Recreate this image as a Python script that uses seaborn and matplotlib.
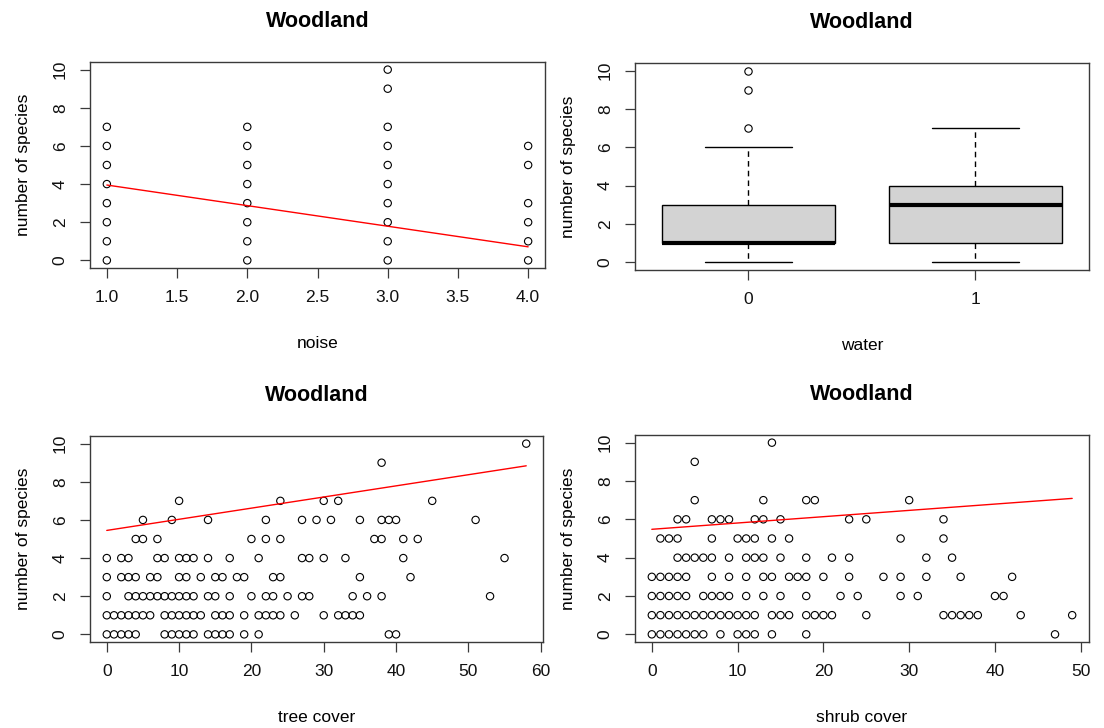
import numpy as np
import pandas as pd
import matplotlib
matplotlib.use("Agg")
import matplotlib.pyplot as plt
import seaborn as sns

# --- data (overlapping points drawn once) ---
species_levels = list(range(11))

# noise vs species: distinct (noise, species) pairs
noise_x = [1] * 8 + [2] * 8 + [3] * 10 + [4] * 6
noise_y = list(range(8)) + list(range(8)) + list(range(8)) + [9, 10] + [0, 1, 2, 3, 5, 6]
noise_fit = [5.03, -1.08]  # intercept, slope

# water: counts of sites per species value 0..10
water0_counts = [18, 30, 14, 12, 8, 5, 3, 1, 0, 1, 1]
water1_counts = [5, 8, 6, 9, 7, 3, 3, 2, 0, 0, 0]

# tree cover: x values in each species row
tree_rows = {
    0: [0, 1, 2, 3, 4, 8, 9, 10, 11, 12, 14, 15, 16, 17, 19, 21, 39, 40],
    1: [0, 1, 2, 3, 4, 5, 6, 8, 9, 10, 11, 12, 13, 15, 16, 17, 19, 21, 22, 23, 24, 26,
        30, 32, 33, 34, 35],
    2: [0, 3, 4, 5, 6, 7, 8, 9, 10, 11, 12, 14, 15, 17, 20, 22, 23, 25, 27, 28, 34, 36, 38, 53],
    3: [0, 2, 3, 4, 6, 7, 10, 11, 13, 15, 16, 18, 19, 23, 24, 35, 42],
    4: [0, 2, 3, 7, 8, 10, 11, 12, 14, 17, 21, 27, 28, 30, 33, 41, 55],
    5: [4, 5, 7, 20, 22, 24, 37, 38, 41, 43],
    6: [5, 9, 14, 22, 27, 29, 31, 35, 38, 39, 40, 51],
    7: [10, 24, 30, 32, 45],
    9: [38],
    10: [58],
}
tree_fit = [5.45, 0.0584]

# shrub cover: x values in each species row
shrub_rows = {
    0: [0, 1, 2, 3, 4, 5, 6, 8, 10, 11, 12, 14, 18, 47],
    1: [0, 1, 2, 3, 4, 5, 6, 7, 8, 9, 10, 11, 12, 14, 15, 16, 18, 19, 20, 21, 25,
        34, 35, 36, 37, 38, 43, 49],
    2: [0, 1, 2, 3, 4, 6, 7, 8, 9, 11, 13, 15, 18, 22, 24, 29, 31, 40, 41],
    3: [0, 1, 2, 3, 4, 7, 9, 11, 13, 14, 16, 17, 18, 20, 23, 27, 29, 32, 36, 42],
    4: [3, 4, 5, 6, 7, 9, 11, 12, 13, 15, 18, 21, 23, 32, 35],
    5: [1, 2, 3, 7, 10, 11, 12, 14, 16, 29, 34],
    6: [3, 4, 7, 8, 9, 12, 13, 15, 23, 25, 34],
    7: [5, 13, 18, 19, 30],
    9: [5],
    10: [14],
}
shrub_fit = [5.48, 0.0329]


def rows_to_frame(rows, xname):
    xs, ys = [], []
    for sp, vals in rows.items():
        xs += vals
        ys += [sp] * len(vals)
    return pd.DataFrame({xname: xs, "species": ys})


noise_df = pd.DataFrame({"noise": noise_x, "species": noise_y})
tree_df = rows_to_frame(tree_rows, "tree cover")
shrub_df = rows_to_frame(shrub_rows, "shrub cover")
water_df = pd.DataFrame({
    "water": np.repeat([0, 1], [sum(water0_counts), sum(water1_counts)]),
    "species": np.concatenate([np.repeat(species_levels, water0_counts),
                               np.repeat(species_levels, water1_counts)]),
})

# --- style ---
sns.set_theme(style="white")
plt.rcParams["font.family"] = ["Liberation Sans", "DejaVu Sans"]
edge = "#3a3a3a"
plt.rcParams.update({
    "text.color": "black",
    "axes.labelcolor": "black",
    "axes.titlecolor": "black",
    "axes.edgecolor": edge,
    "axes.linewidth": 1.0,
    "xtick.color": edge,
    "ytick.color": edge,
    "xtick.labelcolor": "#111111",
    "ytick.labelcolor": "#111111",
    "xtick.major.size": 7,
    "ytick.major.size": 7,
    "xtick.major.width": 0.9,
    "ytick.major.width": 0.9,
    "xtick.major.pad": 9,
    "ytick.major.pad": 9,
    "xtick.bottom": True,
    "ytick.left": True,
})

fig = plt.figure(figsize=(11.04, 7.28), dpi=100)
W, H = 1104, 728


def box(l, t, r, b):
    return [l / W, 1 - b / H, (r - l) / W, (b - t) / H]


ax1 = fig.add_axes(box(90, 62, 545, 268))
ax2 = fig.add_axes(box(635, 63, 1089, 270))
ax3 = fig.add_axes(box(90, 436, 543, 642))
ax4 = fig.add_axes(box(635, 435, 1089, 642))

pt = dict(marker="o", s=28, facecolor="none", edgecolor="black", linewidth=0.8, legend=False)


def fit_line(ax, x, fit):
    xs = np.array([min(x), max(x)], dtype=float)
    sns.lineplot(x=xs, y=fit[0] + fit[1] * xs, color="red", linewidth=1.0, ax=ax)


sns.scatterplot(data=noise_df, x="noise", y="species", ax=ax1, **pt)
fit_line(ax1, noise_x, noise_fit)
ax1.set_xlim(0.88, 4.12)
ax1.set_xticks([1.0, 1.5, 2.0, 2.5, 3.0, 3.5, 4.0])
ax1.set_xticklabels(["1.0", "1.5", "2.0", "2.5", "3.0", "3.5", "4.0"])

sns.boxplot(data=water_df, x="water", y="species", ax=ax2, width=0.76,
            color="#d3d3d3", saturation=1, linecolor="black", linewidth=1.0,
            whiskerprops=dict(linestyle=(0, (4, 3))),
            medianprops=dict(linewidth=3, color="black"),
            flierprops=dict(marker="o", markerfacecolor="none",
                            markeredgecolor="black", markersize=5.3, markeredgewidth=0.8))
ax2.set_xlim(-0.5, 1.5)

sns.scatterplot(data=tree_df, x="tree cover", y="species", ax=ax3, **pt)
fit_line(ax3, tree_df["tree cover"], tree_fit)
ax3.set_xlim(-2.32, 60.32)
ax3.set_xticks(range(0, 61, 10))

sns.scatterplot(data=shrub_df, x="shrub cover", y="species", ax=ax4, **pt)
fit_line(ax4, shrub_df["shrub cover"], shrub_fit)
ax4.set_xlim(-1.96, 50.96)
ax4.set_xticks(range(0, 51, 10))

for ax in (ax1, ax2, ax3, ax4):
    ax.set_ylim(-0.4, 10.4)
    ax.set_yticks(range(0, 11, 2))
    ax.tick_params(axis="both", labelsize=12.5)
    for lab in ax.get_yticklabels():
        lab.set_rotation(90)
        lab.set_va("center")
    ax.set_ylabel("number of species", fontsize=12.5, labelpad=16)
    ax.set_xlabel(ax.get_xlabel(), fontsize=12.5, labelpad=22.5)
    ax.set_title("Woodland", fontsize=15.5, fontweight="bold", pad=25)
    for s in ax.spines.values():
        s.set_visible(True)

fig.savefig("out.png", dpi=100)
